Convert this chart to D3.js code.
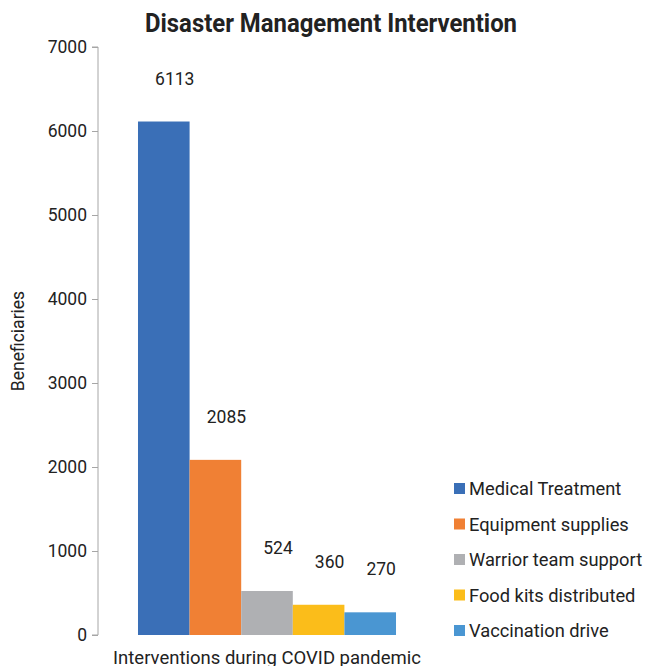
<!DOCTYPE html>
<html>
<head>
<meta charset="utf-8">
<script src="https://cdn.jsdelivr.net/npm/d3@7"></script>
<style>
  html, body { margin: 0; padding: 0; background: #fff; }
  svg { display: block; font-family: Roboto, "Noto Sans", sans-serif; }
</style>
</head>
<body>
<svg id="chart" width="645" height="666"></svg>
<script>
// Beneficiaries per intervention type
const categories = ["Medical Treatment", "Equipment supplies", "Warrior team support", "Food kits distributed", "Vaccination drive"];
const values = [6113, 2085, 524, 360, 270];
const colors = ["#3A6FB7", "#F08034", "#AFB0B3", "#FBBD1A", "#4A96D2"];
const yTicks = [0, 1000, 2000, 3000, 4000, 5000, 6000, 7000];
const groupLabel = "Interventions during COVID pandemic";

const svg = d3.select("#chart");
const margin = { left: 98, right: 209, top: 47, bottom: 31 };
const W = 645, H = 666;
const x0 = margin.left, x1 = W - margin.right;
const yTop = margin.top, yBot = H - margin.bottom;

const y = d3.scaleLinear().domain([0, 7000]).range([yBot, yTop]);

// outer band for the single category group, inner band for each series
const outer = d3.scaleBand().domain([groupLabel]).range([x0, x1]).paddingInner(0).paddingOuter(0.155);
const inner = d3.scaleBand().domain(categories).range([outer(groupLabel), outer(groupLabel) + outer.bandwidth()]);
const color = d3.scaleOrdinal().domain(categories).range(colors);

// Title
svg.append("text")
  .attr("x", 331).attr("y", 32)
  .attr("text-anchor", "middle")
  .attr("font-size", 25).attr("font-weight", "bold")
  .attr("fill", "#222")
  .attr("textLength", 372).attr("lengthAdjust", "spacingAndGlyphs")
  .text("Disaster Management Intervention");

// Y axis
const yAxis = d3.axisLeft(y).tickValues(yTicks).tickSize(6).tickPadding(5).tickFormat(d3.format("d"));
const gy = svg.append("g").attr("transform", `translate(${x0},0)`).call(yAxis);
gy.select(".domain").attr("stroke", "#A6A6A6").attr("d", `M-6,${yTop}H0V${yBot}H-6`);
gy.selectAll(".tick line").attr("stroke", "#A6A6A6");
gy.selectAll(".tick text").attr("font-size", 17.5).attr("fill", "#222").attr("font-family", "Roboto");

// Bars
const bars = svg.append("g");
bars.selectAll("rect").data(categories).join("rect")
  .attr("x", d => inner(d))
  .attr("width", inner.bandwidth())
  .attr("y", (d, i) => y(values[i]))
  .attr("height", (d, i) => y(0) - y(values[i]))
  .attr("fill", d => color(d));

// Value labels, sitting above and slightly right of each bar
bars.selectAll("text").data(categories).join("text")
  .attr("x", d => inner(d) + inner.bandwidth() / 2 + 11)
  .attr("y", (d, i) => y(values[i]) - 37)
  .attr("text-anchor", "middle")
  .attr("font-size", 17.5)
  .attr("fill", "#222")
  .text((d, i) => values[i]);

// X axis label
svg.append("text")
  .attr("x", outer(groupLabel) + outer.bandwidth() / 2)
  .attr("y", 664)
  .attr("text-anchor", "middle")
  .attr("font-size", 18.5)
  .attr("fill", "#222")
  .text(groupLabel);

// Y axis title
svg.append("text")
  .attr("transform", `translate(24,${(yTop + yBot) / 2}) rotate(-90)`)
  .attr("text-anchor", "middle")
  .attr("font-size", 17.5)
  .attr("fill", "#222")
  .text("Beneficiaries");

// Legend
const legend = svg.append("g").attr("transform", "translate(454,489)");
const rows = legend.selectAll("g").data(categories).join("g")
  .attr("transform", (d, i) => `translate(0,${i * 35.5})`);
rows.append("rect").attr("x", 0).attr("y", -6).attr("width", 11).attr("height", 11).attr("fill", d => color(d));
rows.append("text").attr("x", 15).attr("y", 0).attr("dy", "0.35em")
  .attr("font-size", 18.3).attr("fill", "#222").text(d => d);
</script>
</body>
</html>
